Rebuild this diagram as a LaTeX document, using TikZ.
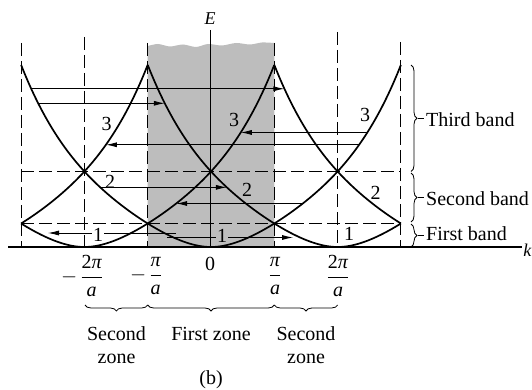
\documentclass[tikz,border=0pt]{standalone}
\usepackage{fontspec}
\setmainfont{Liberation Serif}
\usepackage{amsmath}
\usetikzlibrary{arrows.meta,decorations.pathreplacing}
\newcommand{\zfr}[1]{$\dfrac{\mbox{#1}}{\mbox{\itshape a}}$}
\begin{document}
\begin{tikzpicture}[x=1pt,y=-1pt,
  declare function={Ef(\d)=34.1*(\d)*(\d)-13.58*abs(\d)*(\d)*(\d)+2.986*(\d)*(\d)*(\d)*(\d); KX(\k)=211+63.3*(\k);},
  curve/.style={line width=1.7pt},
  thinln/.style={line width=0.8pt},
  dsh/.style={line width=1pt, dash pattern=on 13pt off 5pt},
  arr/.style={thinln,-{Latex[length=11pt,width=5pt]}},
  lbl/.style={font=\fontsize{20}{23}\selectfont, inner sep=1pt},
  brc/.style={thinln, decorate, decoration={brace, amplitude=6pt}},
  zonetxt/.style={font=\fontsize{20}{23}\selectfont, inner sep=0pt, anchor=base},
  fracl/.style={font=\fontsize{20}{22}\selectfont, inner sep=0pt}
]
\useasboundingbox (0,0) rectangle (532,390);
\definecolor{shadegray}{gray}{0.74}

% shaded first zone
\fill[shadegray] plot[smooth] coordinates {(147.7,46) (158,44) (170,46.5) (183,44.5) (196,47) (208,44) (222,45.5) (236,43) (250,44.5) (262,42.5) (274.3,43)} -- (274.3,247) -- (147.7,247) -- cycle;

% vertical dashed lines
\draw[dsh] (21.1,43) -- (21.1,247);
\draw[dsh] (84.4,37) -- (84.4,247);
\draw[dsh] (147.7,43) -- (147.7,247);
\draw[dsh] (274.3,43) -- (274.3,247);
\draw[dsh] (337.6,32) -- (337.6,247);
\draw[dsh] (400.9,42) -- (400.9,247);

% horizontal dashed band edges
\draw[dsh] (21.1,171.7) -- (400.9,171.7);
\draw[dsh] (21.1,223) -- (400.9,223);

% axes
\node[font=\fontsize{18}{20}\selectfont\itshape, inner sep=0pt] (Elab) at (210,19) {E};
\coordinate (Etop) at (210,30);
\coordinate (Ebot) at (210,247);
\draw[thinln] (Etop) -- (Ebot);
\coordinate (kL) at (8,247);
\coordinate (kR) at (522,247);
\draw[line width=1.1pt] (kL) -- (kR);
\node[font=\fontsize{18}{20}\selectfont\itshape, inner sep=0pt, anchor=east] (klab) at (531.5,250) {k};

% arrow end points
\path coordinate (a1) at ({KX(-2.84)},{247-Ef(2.84)}) coordinate (b1) at ({KX(1.16)},{247-Ef(2.84)})
      coordinate (a2) at ({KX(-2.73)},{247-Ef(2.73)}) coordinate (b2) at ({KX(-0.73)},{247-Ef(2.73)})
      coordinate (a3) at ({KX(2.47)},{247-Ef(2.47)}) coordinate (b3) at ({KX(0.47)},{247-Ef(2.47)})
      coordinate (a4) at ({KX(2.34)},{247-Ef(2.34)}) coordinate (b4) at ({KX(-1.66)},{247-Ef(2.34)})
      coordinate (a5) at ({KX(-1.75)},{247-Ef(1.75)}) coordinate (b5) at ({KX(0.25)},{247-Ef(1.75)})
      coordinate (a6) at ({KX(1.45)},{247-Ef(1.45)}) coordinate (b6) at ({KX(-0.55)},{247-Ef(1.45)})
      coordinate (a7) at (176,233) coordinate (b7) at (48,233)
      coordinate (a8) at (167,237.5) coordinate (b8) at (293,237.5);
\foreach \i in {1,...,8} { \draw[arr] (a\i) -- (b\i); }

% energy curves
\draw[curve] plot[domain=-3:-1,samples=60,smooth] ({KX(\x)},{247-Ef(\x+4)});
\draw[curve] plot[domain=-3:1,samples=90,smooth] ({KX(\x)},{247-Ef(\x+2)});
\draw[curve] plot[domain=-3:3,samples=120,smooth] ({KX(\x)},{247-Ef(\x)});
\draw[curve] plot[domain=-1:3,samples=90,smooth] ({KX(\x)},{247-Ef(\x-2)});
\draw[curve] plot[domain=1:3,samples=60,smooth] ({KX(\x)},{247-Ef(\x-4)});

% branch labels
\node[lbl] (t3a) at (106.7,124) {3};
\node[lbl] (t3b) at (234,120) {3};
\node[lbl] (t3c) at (365,115) {3};
\node[lbl] (t2a) at (110,182) {2};
\node[lbl] (t2b) at (247,189.5) {2};
\node[lbl] (t2c) at (375.7,193.3) {2};
\node[lbl, fill=white] (t1a) at (98,234.5) {1};
\node[lbl, fill=shadegray] (t1b) at (222,235.5) {1};
\node[lbl] (t1c) at (349,234) {1};

% band braces
\draw[brc] (411,65) -- (411,171.5);
\draw[brc] (411,173) -- (411,222);
\draw[brc] (411,224) -- (411,247);
\coordinate (tb1) at (417.5,118.3); \coordinate (tb2) at (423.5,118.3);
\coordinate (sb1) at (417.5,197.5); \coordinate (sb2) at (423.5,197.5);
\coordinate (fb1) at (417.5,235.5); \coordinate (fb2) at (423.5,235.5);
\draw[thinln] (tb1) -- (tb2);
\draw[thinln] (sb1) -- (sb2);
\draw[thinln] (fb1) -- (fb2);
\node[lbl, anchor=west, inner sep=0pt] (third) at (426,119.5) {Third band};
\node[lbl, anchor=west, inner sep=0pt] (second) at (426,198.5) {Second band};
\node[lbl, anchor=west, inner sep=0pt] (first) at (426,233.5) {First band};

% k-axis tick labels
\node[fracl] (m2) at (82,276) {$-$\,\zfr{2\itshape π}};
\node[fracl] (m1) at (146,276) {$-$\,\zfr{\itshape π}};
\node[fracl] (z0) at (210,264) {0};
\node[fracl] (p1) at (275,276) {\zfr{\itshape π}};
\node[fracl] (p2) at (338,276) {\zfr{2\itshape π}};

% zone braces
\draw[brc] (147.7,305) -- (85,305);
\draw[brc] (274.3,305) -- (147.7,305);
\draw[brc] (337.6,305) -- (274.3,305);
\node[zonetxt] (sz1) at (116.5,340) {Second};
\node[zonetxt] (sz1b) at (116.5,363) {zone};
\node[zonetxt] (fz) at (211,340) {First zone};
\node[zonetxt] (sz2) at (306,340) {Second};
\node[zonetxt] (sz2b) at (306,363) {zone};
\node[zonetxt] (cap) at (211,384) {(b)};
\end{tikzpicture}
\end{document}
